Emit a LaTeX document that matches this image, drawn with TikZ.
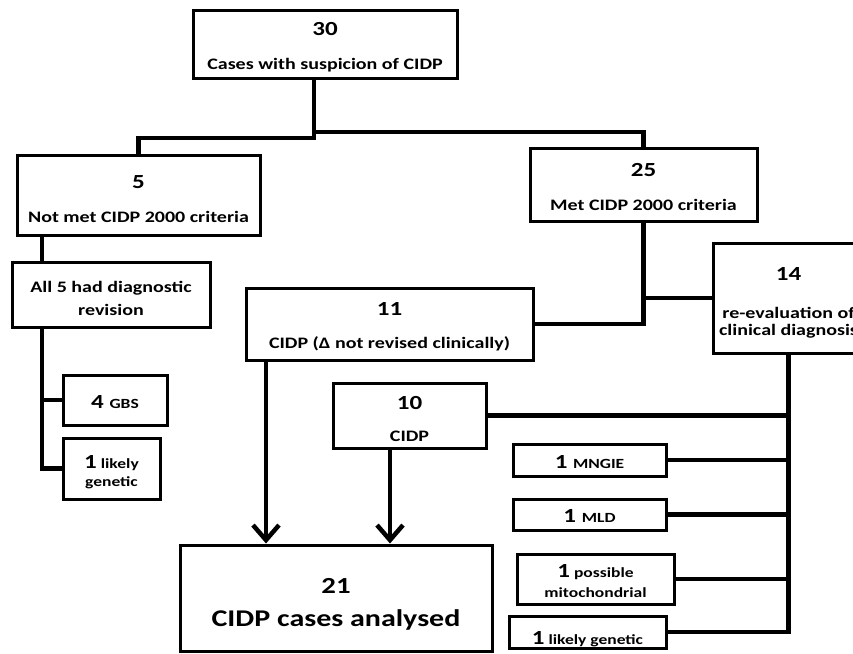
\documentclass[tikz,border=0pt]{standalone}
\usepackage{fontspec}
\setmainfont{Carlito}[FakeStretch=1.25]
\usetikzlibrary{arrows.meta}
\newcommand\fsz[1]{\fontsize{#1}{#1}\selectfont}
\begin{document}
\begin{tikzpicture}[x=1pt,y=-1pt,
  box/.style={draw, line width=3pt, inner sep=0pt},
  txt/.style={anchor=base, inner sep=0pt, font=\bfseries\fsz{16}},
  num/.style={anchor=base, inner sep=0pt, font=\bfseries\fsz{20}},
  sml/.style={anchor=base, inner sep=0pt, font=\bfseries\fsz{14}},
  conn/.style={line width=4.5pt, line join=miter},
  arr/.style={conn, -{Straight Barb[length=15pt,width=26pt]}}]
\useasboundingbox (0,0) rectangle (853,653);
\clip (0,0) rectangle (853,653);

% boxes
\node[box, minimum width=264pt, minimum height=68pt] (b30) at (325,44) {};
\node[box, minimum width=243pt, minimum height=80pt] (b5) at (138.5,195) {};
\node[box, minimum width=198pt, minimum height=65pt] (ball5) at (111,294.5) {};
\node[box, minimum width=104pt, minimum height=50pt] (b4) at (115,400) {};
\node[box, minimum width=97pt, minimum height=61pt] (bl1) at (111.5,468.5) {};
\node[box, minimum width=227pt, minimum height=73pt] (b25) at (643.5,184.5) {};
\node[box, minimum width=151pt, minimum height=110pt] (b14) at (788.5,298) {};
\node[box, minimum width=287pt, minimum height=72pt] (b11) at (389.5,324) {};
\node[box, minimum width=153pt, minimum height=65pt] (b10) at (409.5,415.5) {};
\node[box, minimum width=312pt, minimum height=106pt] (b21) at (336,598) {};
\node[box, minimum width=153pt, minimum height=32pt] (bm1) at (589.5,460) {};
\node[box, minimum width=153pt, minimum height=31pt] (bm2) at (589.5,514.5) {};
\node[box, minimum width=157pt, minimum height=50pt] (bm3) at (595.5,579) {};
\node[box, minimum width=157pt, minimum height=32pt] (bm4) at (587.5,632) {};

% texts
\node[num] (n30) at (325,35) {30};
\node[txt] (l30) at (325,69) {Cases with suspicion of CIDP};
\node[num] (n5) at (138.5,188) {5};
\node[txt] (l5) at (138.5,222) {Not met CIDP 2000 criteria};
\node[txt] (la1) at (111,292) {All 5 had diagnostic};
\node[txt] (la2) at (111,315) {revision};
\node[num] (n4) at (115,408) {4 {\fsz{14}GBS}};
\node[sml] (n1a) at (111.5,468) {{\fsz{20}1} likely};
\node[sml] (n1b) at (111.5,486) {genetic};
\node[num] (n25) at (643.5,176) {25};
\node[txt] (l25) at (643.5,210) {Met CIDP 2000 criteria};
\node[num] (n11) at (389.5,315) {11};
\node[txt] (l11) at (389.5,348) {CIDP (Δ not revised clinically)};
\node[num] (n14) at (788.5,280) {14};
\node[txt] (l14a) at (788.5,318) {re-evaluation of};
\node[txt] (l14b) at (788.5,335) {clinical diagnosis};
\node[num] (n10) at (409.5,409) {10};
\node[txt] (l10) at (409.5,441) {CIDP};
\node[num] (nm1) at (589.5,468) {1 {\fsz{14}MNGIE}};
\node[num] (nm2) at (589.5,522) {1 {\fsz{14}MLD}};
\node[sml] (nm3a) at (595.5,577) {{\fsz{20}1} possible};
\node[sml] (nm3b) at (595.5,597) {mitochondrial};
\node[sml] (nm4) at (587.5,644) {{\fsz{20}1} likely genetic};
\node[num, font=\bfseries\fsz{23}] (n21) at (336,593) {21};
\node[txt, font=\bfseries\fsz{24}] (l21) at (336,626) {CIDP cases analysed};

% connectors
\coordinate (j0) at (314,0);
\coordinate (lx) at (42,0);
\coordinate (ax) at (266,0);
\coordinate (bx) at (390,0);
\draw[conn] (j0 |- b30.south) -- (314,138) -| (b5.north);
\draw[conn] (314,132) -| (b25.north);
\draw[conn] (lx |- b5.south) -- (lx |- ball5.north);
\draw[conn] (lx |- ball5.south) |- (bl1.west);
\draw[conn] (lx |- b4.west) -- (b4.west);
\draw[conn] (b25.south) |- (b11.east);
\draw[conn] (b25.south |- b14.west) -- (b14.west);
\draw[conn] (b14.south) |- (bm4.east);
\draw[conn] (b10.east) -- (b10.east -| b14.south);
\draw[conn] (bm1.east) -- (bm1.east -| b14.south);
\draw[conn] (bm2.east) -- (bm2.east -| b14.south);
\draw[conn] (bm3.east) -- (bm3.east -| b14.south);
\draw[arr] (ax |- b11.south) -- (ax |- b21.north);
\draw[arr] (bx |- b10.south) -- (bx |- b21.north);
\end{tikzpicture}
\end{document}
